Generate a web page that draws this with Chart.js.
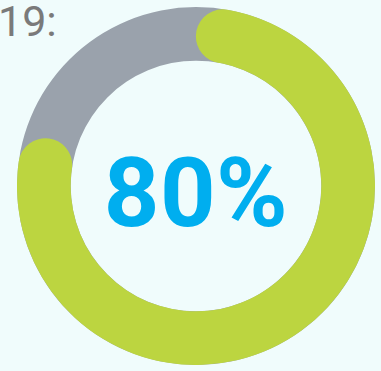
<!DOCTYPE html>
<html>
<head>
<meta charset="utf-8">
<script src="https://cdn.jsdelivr.net/npm/chart.js@4/dist/chart.umd.min.js"></script>
<style>
    html, body { margin: 0; padding: 0; background: #f0fcfc; }
    body { width: 381px; height: 371px; position: relative; overflow: hidden; font-family: Roboto, sans-serif; }
    .year { position: absolute; left: -2px; top: -4px; font-size: 43px; font-weight: 400; color: #7a7a7a; }
    .wrap { position: absolute; left: 17px; top: 7px; width: 358px; height: 358px; }
    .wrap canvas { position: absolute; left: 0; top: 0; }
    .value { position: absolute; left: 17px; top: 7px; width: 358px; height: 358px; display: flex; align-items: center; justify-content: center; font-size: 97px; font-weight: 700; color: #00aeef; padding-top: 14px; box-sizing: border-box; letter-spacing: 0.5px; }
</style>
</head>
<body>
<div class="year">19:</div>
<div class="wrap">
    <canvas id="track" width="358" height="358"></canvas>
    <canvas id="progress" width="358" height="358"></canvas>
</div>
<div class="value" id="label"></div>
<script>
const labels = ['Done', 'Remaining'];
const percent = [80, 20];
const trackColor = '#9aa2ac';
const doneColor = '#bcd540';

function ringOptions() {
    return {
        responsive: false,
        animation: false,
        cutout: '70%',
        plugins: {
            legend: {display: false},
            tooltip: {enabled: false}
        }
    };
}

// full grey ring underneath
new Chart(document.getElementById('track').getContext('2d'), {
    type: 'doughnut',
    data: {
        labels: ['Track'],
        datasets: [{
            data: [percent[0] + percent[1]],
            backgroundColor: [trackColor],
            borderWidth: 0
        }]
    },
    options: ringOptions()
});

// green progress arc with rounded ends
new Chart(document.getElementById('progress').getContext('2d'), {
    type: 'doughnut',
    data: {
        labels: labels,
        datasets: [{
            data: percent,
            backgroundColor: [doneColor, 'rgba(0,0,0,0)'],
            borderWidth: 0,
            borderRadius: [40, 0]
        }]
    },
    options: ringOptions()
});

document.getElementById('label').textContent = percent[0] + '%';
</script>
</body>
</html>
